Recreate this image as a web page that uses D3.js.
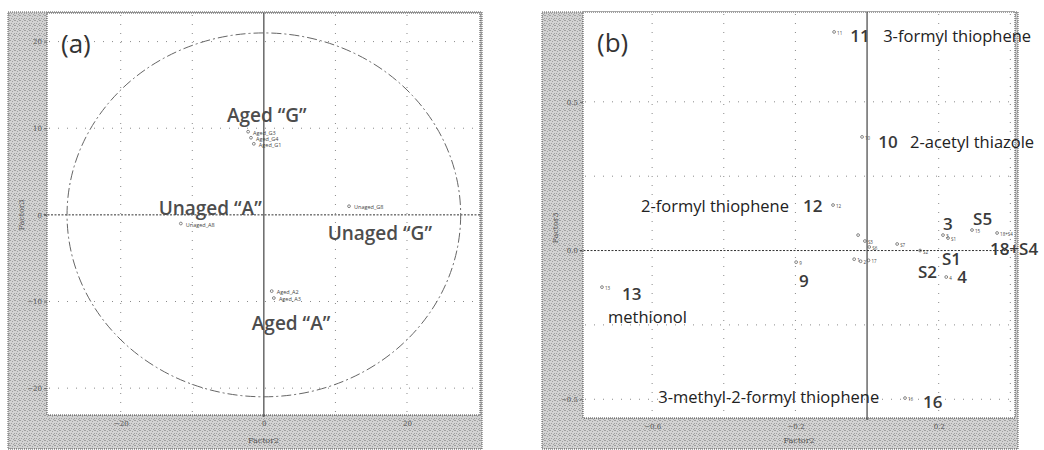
<!DOCTYPE html>
<html>
<head>
<meta charset="utf-8">
<script src="https://cdn.jsdelivr.net/npm/d3@7"></script>
<style>
  html, body { margin: 0; padding: 0; background: #ffffff; }
  svg { display: block; }
</style>
</head>
<body>
<svg id="chart" width="1044" height="450"></svg>
<script>
// ---- panel (a): sample scores, Factor2 vs Factor3
const samplesA = ["Aged_G3", "Aged_G4", "Aged_G1", "Unaged_G8", "Unaged_A8", "Aged_A2", "Aged_A3"];
const samplesAX = [-2.2, -1.8, -1.4, 11.9, -11.6, 1.1, 1.4];
const samplesAY = [9.6, 8.9, 8.2, 1.0, -1.0, -8.8, -9.6];

const groupsA = ["Aged \u201cG\u201d", "Unaged \u201cA\u201d", "Unaged \u201cG\u201d", "Aged \u201cA\u201d"];
const groupsAX = [0.4, -7.5, 16.2, 3.8];
const groupsAY = [10.7, 0.0, -2.9, -13.3];

const ticksAX = [-20, 0, 20];
const ticksAY = [-20, -10, 0, 10, 20];
const gridAX = [-20, -10, 10, 20];
const gridAY = [-20, -10, 10, 20];
const ellipseA = [27.5, 21]; // confidence ellipse radii (Factor2, Factor3)

// ---- panel (b): compound loadings
const pointsB = ["11", "10", "12", "9", "13", "16", "5", "S3", "S6", "1", "2", "17", "S7", "S2", "3", "S1", "4", "15", "18+S4"];
const pointsBX = [-0.092, -0.014, -0.095, -0.198, -0.740, 0.106, -0.025, -0.006, 0.006, -0.036, -0.018, 0.004, 0.084, 0.148, 0.212, 0.226, 0.221, 0.293, 0.363];
const pointsBY = [0.735, 0.382, 0.153, -0.039, -0.123, -0.496, 0.052, 0.032, 0.012, -0.029, -0.036, -0.033, 0.022, 0.000, 0.052, 0.042, -0.089, 0.069, 0.059];

const notesB = ["11", "3-formyl thiophene", "10", "2-acetyl thiazole", "2-formyl thiophene", "12", "9", "13", "methionol",
  "3-methyl-2-formyl thiophene", "16", "3", "S5", "S1", "S2", "4", "18+S4"];
const notesBX = [-0.047, 0.045, 0.031, 0.120, -0.631, -0.179, -0.190, -0.684, -0.723, -0.583, 0.156, 0.212, 0.296, 0.209, 0.142, 0.252, 0.343];
const notesBY = [0.701, 0.701, 0.345, 0.345, 0.129, 0.129, -0.123, -0.166, -0.242, -0.513, -0.530, 0.070, 0.086, -0.049, -0.092, -0.109, -0.015];
const notesBBold = [true, false, true, false, false, true, true, true, false, false, true, true, true, true, true, true, true];

const ticksBX = [-0.6, -0.2, 0.2];
const ticksBY = [-0.5, 0.0, 0.5];
const gridBX = [-0.6, -0.4, -0.2, 0.2, 0.4];
const gridBY = [-0.5, -0.25, 0.25, 0.5];

const svg = d3.select("#chart");
const FONT = "'Open Sans', 'Noto Sans', sans-serif";
const TICK_FONT = "'DejaVu Serif', serif";

// stippled grey texture of the scanned frame
const defs = svg.append("defs");
const pat = defs.append("pattern")
    .attr("id", "stipple")
    .attr("width", 5).attr("height", 5)
    .attr("patternUnits", "userSpaceOnUse");
pat.append("rect").attr("width", 5).attr("height", 5).attr("fill", "#d2d2d2");
[[0, 0], [2, 1], [4, 3], [1, 3], [3, 4], [4, 0]].forEach(([x, y]) => {
    pat.append("rect").attr("x", x).attr("y", y).attr("width", 1).attr("height", 1).attr("fill", "#9f9f9f");
});

// one framed panel, returns group + scales
const drawPanel = (cfg) => {
    const g = svg.append("g");

    g.append("rect")
        .attr("x", cfg.frame[0]).attr("y", cfg.frame[1])
        .attr("width", cfg.frame[2] - cfg.frame[0])
        .attr("height", cfg.frame[3] - cfg.frame[1])
        .attr("fill", "url(#stipple)")
        .attr("stroke", "#555")
        .attr("stroke-dasharray", "1,1");

    const x = d3.scaleLinear().domain(cfg.xDomain).range([cfg.plot[0], cfg.plot[2]]);
    const y = d3.scaleLinear().domain(cfg.yDomain).range([cfg.plot[3], cfg.plot[1]]);

    g.append("rect")
        .attr("x", cfg.plot[0]).attr("y", cfg.plot[1])
        .attr("width", cfg.plot[2] - cfg.plot[0])
        .attr("height", cfg.plot[3] - cfg.plot[1])
        .attr("fill", "#ffffff")
        .attr("stroke", "#444")
        .attr("stroke-dasharray", "1,1");

    // dotted grid
    g.selectAll(".gx").data(cfg.gridX).join("line")
        .attr("x1", d => x(d)).attr("x2", d => x(d))
        .attr("y1", cfg.plot[1] + 2).attr("y2", cfg.plot[3] - 2)
        .attr("stroke", "#8a8a8a").attr("stroke-width", 1)
        .attr("stroke-dasharray", "1,8");
    g.selectAll(".gy").data(cfg.gridY).join("line")
        .attr("y1", d => y(d)).attr("y2", d => y(d))
        .attr("x1", cfg.plot[0] + 2).attr("x2", cfg.plot[2] - 2)
        .attr("stroke", "#8a8a8a").attr("stroke-width", 1)
        .attr("stroke-dasharray", "1,8");

    // axes through origin
    g.append("line")
        .attr("x1", x(0)).attr("x2", x(0))
        .attr("y1", cfg.plot[1]).attr("y2", cfg.plot[3] + 2)
        .attr("stroke", "#333").attr("stroke-width", 1.1);
    g.append("line")
        .attr("x1", cfg.plot[0] - 3).attr("x2", cfg.plot[2])
        .attr("y1", y(0)).attr("y2", y(0))
        .attr("stroke", "#333").attr("stroke-width", 1)
        .attr("stroke-dasharray", "2,1.5");

    // tick labels
    const xAxis = d3.axisBottom(x).tickValues(cfg.ticksX).tickSize(0).tickPadding(6).tickFormat(cfg.fmt);
    const yAxis = d3.axisLeft(y).tickValues(cfg.ticksY).tickSize(3).tickPadding(2).tickFormat(cfg.fmt);
    const ax = g.append("g").attr("transform", `translate(0,${cfg.plot[3]})`).call(xAxis);
    const ay = g.append("g").attr("transform", `translate(${cfg.plot[0]},0)`).call(yAxis);
    [ax, ay].forEach(a => {
        a.select(".domain").remove();
        a.selectAll("line").attr("stroke", "#666");
        a.selectAll("text")
            .attr("fill", "#555")
            .style("font-family", TICK_FONT)
            .style("font-size", "7px");
    });

    g.append("text")
        .attr("x", (cfg.plot[0] + cfg.plot[2]) / 2)
        .attr("y", cfg.frame[3] - 6)
        .attr("text-anchor", "middle")
        .attr("fill", "#555")
        .style("font-family", TICK_FONT)
        .style("font-size", "8px")
        .text("Factor2");
    g.append("text")
        .attr("transform", `translate(${cfg.frame[0] + 16},${cfg.yTitle}) rotate(-90)`)
        .attr("text-anchor", "middle")
        .attr("fill", "#555")
        .style("font-family", TICK_FONT)
        .style("font-size", "8px")
        .text("Factor3");

    g.append("text")
        .attr("x", cfg.plot[0] + 14)
        .attr("y", cfg.plot[1] + 40)
        .attr("fill", "#333")
        .style("font-family", FONT)
        .style("font-size", "26px")
        .text(cfg.tag);

    return { g, x, y };
};

// ---------- panel (a)
const pa = drawPanel({
    frame: [8, 12, 482, 449],
    plot: [47, 13, 480, 415],
    xDomain: [-30.3, 30.2],
    yDomain: [-23.1, 23.3],
    ticksX: ticksAX, ticksY: ticksAY,
    gridX: gridAX, gridY: gridAY,
    fmt: d3.format("d"),
    yTitle: 215,
    tag: "(a)"
});

pa.g.append("ellipse")
    .attr("cx", pa.x(0)).attr("cy", pa.y(0))
    .attr("rx", pa.x(ellipseA[0]) - pa.x(0))
    .attr("ry", pa.y(0) - pa.y(ellipseA[1]))
    .attr("fill", "none")
    .attr("stroke", "#666")
    .attr("stroke-width", 1)
    .attr("stroke-dasharray", "10,3,2,3");

const samplesData = samplesA.map((name, i) => ({ name, x: samplesAX[i], y: samplesAY[i] }));
pa.g.selectAll(".sa").data(samplesData).join("circle")
    .attr("cx", d => pa.x(d.x)).attr("cy", d => pa.y(d.y))
    .attr("r", 1.4)
    .attr("fill", "none").attr("stroke", "#555").attr("stroke-width", 0.7);
pa.g.selectAll(".sal").data(samplesData).join("text")
    .attr("x", d => pa.x(d.x) + 5).attr("y", d => pa.y(d.y) + 3)
    .attr("fill", "#444")
    .style("font-family", FONT)
    .style("font-size", "5.5px")
    .text(d => d.name);

const groupData = groupsA.map((t, i) => ({ t, x: groupsAX[i], y: groupsAY[i] }));
pa.g.selectAll(".ga").data(groupData).join("text")
    .attr("x", d => pa.x(d.x)).attr("y", d => pa.y(d.y))
    .attr("text-anchor", "middle")
    .attr("fill", "#4d4d4d")
    .style("font-family", FONT)
    .style("font-weight", "600")
    .style("font-size", "19px")
    .text(d => d.t);

// ---------- panel (b)
const pb = drawPanel({
    frame: [542, 12, 1018, 449],
    plot: [583, 12, 1015, 418],
    xDomain: [-0.793, 0.413],
    yDomain: [-0.563, 0.802],
    ticksX: ticksBX, ticksY: ticksBY,
    gridX: gridBX, gridY: gridBY,
    fmt: d3.format(".1f"),
    yTitle: 228,
    tag: "(b)"
});

const pointsData = pointsB.map((name, i) => ({ name, x: pointsBX[i], y: pointsBY[i] }));
pb.g.selectAll(".pb").data(pointsData).join("circle")
    .attr("cx", d => pb.x(d.x)).attr("cy", d => pb.y(d.y))
    .attr("r", 1.4)
    .attr("fill", "none").attr("stroke", "#555").attr("stroke-width", 0.7);
pb.g.selectAll(".pbl").data(pointsData.filter(d => d.name !== "5")).join("text")
    .attr("x", d => pb.x(d.x) + 3).attr("y", d => pb.y(d.y) + 3)
    .attr("fill", "#444")
    .style("font-family", FONT)
    .style("font-size", "4.5px")
    .text(d => d.name);

const notesData = notesB.map((t, i) => ({ t, x: notesBX[i], y: notesBY[i], bold: notesBBold[i] }));
pb.g.selectAll(".nb").data(notesData).join("text")
    .attr("x", d => pb.x(d.x)).attr("y", d => pb.y(d.y))
    .attr("fill", d => d.bold ? "#3a3a3a" : "#222")
    .style("font-family", FONT)
    .style("font-weight", d => d.bold ? "600" : "400")
    .style("font-size", d => d.bold ? "17px" : "16.5px")
    .text(d => d.t);
</script>
</body>
</html>
